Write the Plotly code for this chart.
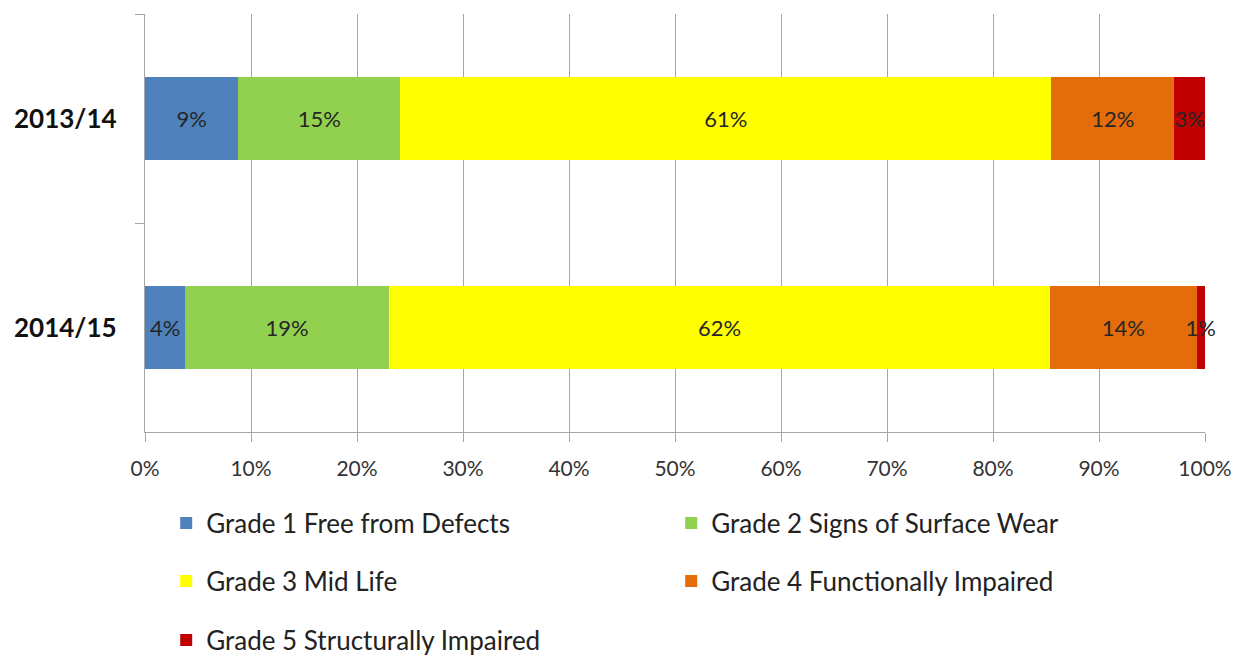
import plotly.graph_objects as go

years = ["2013/14", "2014/15"]
grade_names = [
    "Grade 1 Free from Defects",
    "Grade 2 Signs of Surface Wear",
    "Grade 3 Mid Life",
    "Grade 4 Functionally Impaired",
    "Grade 5 Structurally Impaired",
]
grade1 = [8.8, 3.8]
grade2 = [15.3, 19.2]
grade3 = [61.4, 62.4]
grade4 = [11.6, 13.8]
grade5 = [2.9, 0.8]
series = [grade1, grade2, grade3, grade4, grade5]
colors = ["#4F81BD", "#92D050", "#FFFF00", "#E46C0A", "#C00000"]
legend_ids = ["legend", "legend", "legend2", "legend2", "legend3"]
x_ticks = list(range(0, 101, 10))

FONT = "Lato"

fig = go.Figure()
for name, vals, col, lg in zip(grade_names, series, colors, legend_ids):
    fig.add_trace(go.Bar(
        y=years, x=vals, name=name, orientation="h",
        marker=dict(color=col, line=dict(width=0)),
        width=0.4,
        texttemplate="%{x:.0f}%", textposition="inside", textangle=0,
        insidetextanchor="middle", constraintext="none",
        textfont=dict(family=FONT, size=22, color="#262626"),
        cliponaxis=False,
        legend=lg,
    ))

leg_common = dict(orientation="h", xanchor="left", yanchor="middle",
                  font=dict(family=FONT, size=26, color="#222222"),
                  entrywidth=460, entrywidthmode="pixels",
                  bgcolor="rgba(0,0,0,0)", itemwidth=30, traceorder="normal")

fig.update_layout(
    barmode="stack",
    width=1238, height=651,
    margin=dict(l=137, r=41, t=6, b=227, autoexpand=False),
    plot_bgcolor="white", paper_bgcolor="white",
    xaxis=dict(
        range=[0, 100], tickvals=x_ticks,
        ticktext=[f"{v}%" for v in x_ticks],
        showgrid=True, gridcolor="#A6A6A6", gridwidth=1.3,
        showline=True, linecolor="#A6A6A6", linewidth=1.3,
        ticks="outside", ticklen=9, tickcolor="#A6A6A6",
        tickfont=dict(family=FONT, size=21, color="#333333"),
        ticklabelstandoff=9,
        zeroline=False, fixedrange=True,
    ),
    yaxis=dict(
        categoryorder="array", categoryarray=years, autorange="reversed",
        showline=True, linecolor="#A6A6A6", linewidth=1.3,
        ticks="outside", ticklen=9, tickcolor="#A6A6A6", tickson="boundaries",
        tickfont=dict(family=FONT, size=26, color="#111111", weight="bold"),
        ticklabelstandoff=22, showgrid=False,
    ),
    legend=dict(x=0.02, y=-0.2177, **leg_common),
    legend2=dict(x=0.02, y=-0.3565, **leg_common),
    legend3=dict(x=0.02, y=-0.4976, **leg_common),
)

fig.write_html("out.html")
